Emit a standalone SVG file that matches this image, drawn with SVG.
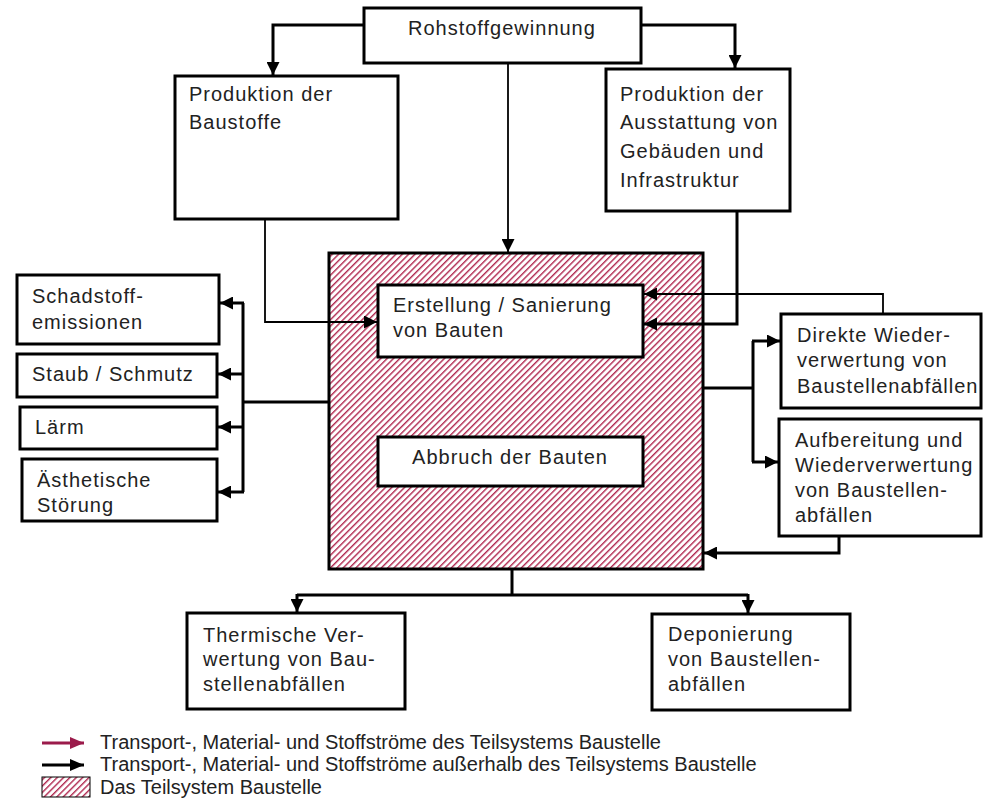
<svg xmlns="http://www.w3.org/2000/svg" width="983" height="812" viewBox="0 0 983 812">
<style>
.box{fill:#fff;stroke:#000;stroke-width:3}
.t{font-family:"Liberation Sans",Arial,sans-serif;font-size:20px;letter-spacing:1px;fill:#222}
.lg{font-family:"Liberation Sans",Arial,sans-serif;font-size:20px;fill:#222}
.c{fill:none;stroke:#000;stroke-width:3}
.cn{fill:none;stroke:#000;stroke-width:1.8}
</style>
<defs>
<pattern id="hatch" patternUnits="userSpaceOnUse" width="4.5" height="4.5" patternTransform="rotate(-45)">
<rect width="4.5" height="4.5" fill="#fff"/>
<rect width="4.5" height="1.4" fill="#b0284f"/>
</pattern>
<marker id="ah" viewBox="0 0 13 13" markerWidth="13" markerHeight="13" refX="13" refY="6.5" orient="auto" markerUnits="userSpaceOnUse">
<path d="M0,0 L13,6.5 L0,13 z" fill="#000"/>
</marker>
<marker id="ahr" viewBox="0 0 14 12" markerWidth="14" markerHeight="12" refX="14" refY="6" orient="auto" markerUnits="userSpaceOnUse">
<path d="M0,0 L14,6 L0,12 z" fill="#9b1b4b"/>
</marker>
<marker id="ahb" viewBox="0 0 14 12" markerWidth="14" markerHeight="12" refX="14" refY="6" orient="auto" markerUnits="userSpaceOnUse">
<path d="M0,0 L14,6 L0,12 z" fill="#000"/>
</marker>
</defs>
<rect width="983" height="812" fill="#fff"/>

<g id="baustelle">
<rect x="329" y="253" width="374" height="316" fill="url(#hatch)" stroke="#000" stroke-width="3"/>
</g>

<g id="rohstoff">
<rect class="box" x="364" y="8" width="277" height="55"/>
<text class="t" x="408" y="35">Rohstoffgewinnung</text>
</g>

<g id="baustoffe">
<rect class="box" x="175" y="76" width="223" height="143"/>
<text class="t" x="189" y="101">Produktion der</text>
<text class="t" x="189" y="129">Baustoffe</text>
</g>

<g id="ausstattung">
<rect class="box" x="606" y="69" width="184" height="142"/>
<text class="t" x="620" y="101">Produktion der</text>
<text class="t" x="620" y="129">Ausstattung von</text>
<text class="t" x="620" y="158">Gebäuden und</text>
<text class="t" x="620" y="187">Infrastruktur</text>
</g>

<g id="erstellung">
<rect class="box" x="378" y="285" width="265" height="72"/>
<text class="t" x="393" y="312">Erstellung / Sanierung</text>
<text class="t" x="393" y="337">von Bauten</text>
</g>

<g id="abbruch">
<rect class="box" x="378" y="437" width="265" height="49"/>
<text class="t" x="510" y="464" text-anchor="middle">Abbruch der Bauten</text>
</g>

<g id="schadstoff">
<rect class="box" x="17" y="275" width="202" height="69"/>
<text class="t" x="32" y="303">Schadstoff-</text>
<text class="t" x="32" y="329">emissionen</text>
</g>

<g id="staub">
<rect class="box" x="17" y="354" width="200" height="43"/>
<text class="t" x="32" y="381">Staub / Schmutz</text>
</g>

<g id="laerm">
<rect class="box" x="20" y="407" width="197" height="42"/>
<text class="t" x="35" y="434">Lärm</text>
</g>

<g id="aesthetik">
<rect class="box" x="22" y="459" width="195" height="62"/>
<text class="t" x="37" y="487">Ästhetische</text>
<text class="t" x="37" y="512">Störung</text>
</g>

<g id="direkte">
<rect class="box" x="781" y="314" width="200" height="94"/>
<text class="t" x="797" y="342">Direkte Wieder-</text>
<text class="t" x="797" y="367">verwertung von</text>
<text class="t" x="797" y="393">Baustellenabfällen</text>
</g>

<g id="aufbereitung">
<rect class="box" x="779" y="419" width="202" height="117"/>
<text class="t" x="795" y="447">Aufbereitung und</text>
<text class="t" x="795" y="472">Wiederverwertung</text>
<text class="t" x="795" y="497">von Baustellen-</text>
<text class="t" x="795" y="522">abfällen</text>
</g>

<g id="thermisch">
<rect class="box" x="187" y="613" width="218" height="96"/>
<text class="t" x="203" y="642">Thermische Ver-</text>
<text class="t" x="203" y="666">wertung von Bau-</text>
<text class="t" x="203" y="691">stellenabfällen</text>
</g>

<g id="deponierung">
<rect class="box" x="652" y="614" width="198" height="96"/>
<text class="t" x="668" y="641">Deponierung</text>
<text class="t" x="668" y="666">von Baustellen-</text>
<text class="t" x="668" y="691">abfällen</text>
</g>

<g id="connectors">
<path class="c" d="M364,25 H273 V75" marker-end="url(#ah)"/>
<path class="c" d="M641,25 H735 V68" marker-end="url(#ah)"/>
<path class="cn" d="M508,63 V252" marker-end="url(#ah)"/>
<path class="cn" d="M265,219 V322 H377" marker-end="url(#ah)"/>
<path class="c" d="M737,211 V324 H644" marker-end="url(#ah)"/>
<path class="cn" d="M883,314 V294 H644" marker-end="url(#ah)"/>
<path class="c" d="M703,388 H753"/>
<path class="c" d="M753,341 V462"/>
<path class="c" d="M752,341 H780" marker-end="url(#ah)"/>
<path class="c" d="M752,462 H778" marker-end="url(#ah)"/>
<path class="c" d="M839,536 V553 H704" marker-end="url(#ah)"/>
<path class="c" d="M328,402 H243"/>
<path class="c" d="M243,303 V492"/>
<path class="c" d="M244,303 H220" marker-end="url(#ah)"/>
<path class="c" d="M244,374 H218" marker-end="url(#ah)"/>
<path class="c" d="M244,427 H218" marker-end="url(#ah)"/>
<path class="c" d="M244,492 H218" marker-end="url(#ah)"/>
<path class="c" d="M512,570 V595"/>
<path class="c" d="M297,595 H748"/>
<path class="c" d="M297,594 V612" marker-end="url(#ah)"/>
<path class="c" d="M748,594 V613" marker-end="url(#ah)"/>
</g>

<g id="legend">
<path d="M42,743 H84" stroke="#9b1b4b" stroke-width="3" fill="none" marker-end="url(#ahr)"/>
<text class="lg" x="100" y="749">Transport-, Material- und Stoffströme des Teilsystems Baustelle</text>
<path d="M42,765 H84" stroke="#000" stroke-width="3" fill="none" marker-end="url(#ahb)"/>
<text class="lg" x="100" y="771">Transport-, Material- und Stoffströme außerhalb des Teilsystems Baustelle</text>
<rect x="42" y="777" width="48" height="20" fill="url(#hatch)" stroke="#000" stroke-width="1"/>
<text class="lg" x="100" y="794">Das Teilsystem Baustelle</text>
</g>
</svg>
